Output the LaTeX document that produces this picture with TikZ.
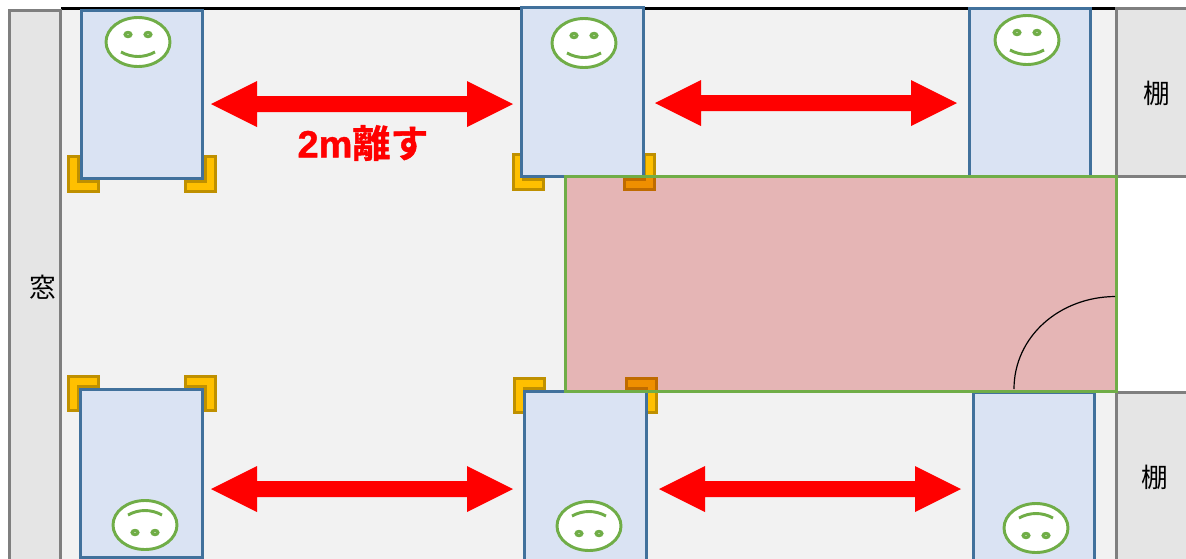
\documentclass[tikz,border=0pt]{standalone}
\usepackage{fontspec}
\setmainfont{Liberation Sans}
\newfontfamily\jpfont{Noto Sans CJK JP}
\newfontfamily\jpbold[FakeBold=1]{Noto Sans CJK JP Bold}
\newfontfamily\latinbold[FakeBold=1]{Liberation Sans Bold}

\definecolor{floorgray}{HTML}{F2F2F2}
\definecolor{shelfgray}{HTML}{E5E5E5}
\definecolor{wallgray}{HTML}{7F7F7F}
\definecolor{bedblue}{HTML}{DAE3F3}
\definecolor{bedline}{HTML}{41719C}
\definecolor{facegreen}{HTML}{70AD47}
\definecolor{legyellow}{HTML}{FFC000}
\definecolor{legline}{HTML}{BF9000}
\definecolor{roomred}{HTML}{C00000}

\tikzset{
  shelf/.style={draw=wallgray, line width=2.25pt, fill=shelfgray},
  bed/.style={draw=bedline, line width=2.25pt, fill=bedblue},
  leg/.style={draw=legline, line width=2.25pt, fill=legyellow},
  face/.style={draw=facegreen, line width=2.2pt, fill=white},
  eye/.style={draw=facegreen, line width=2.2pt, fill=facegreen!50!white},
  mouth/.style={draw=facegreen, line width=2.2pt},
  label/.style={font=\jpfont\fontsize{20}{24}\selectfont, text=black}
}

\begin{document}
\begin{tikzpicture}[x=0.75pt, y=-0.75pt]
\useasboundingbox (0,0) rectangle (1186,558);
\clip (0,0) rectangle (1186,558);

% floor
\fill [floorgray](61,9) rectangle (1116,570);
\fill [white](1116,176) rectangle (1190,392);
\draw [black, line width=2.25pt](61,8) -- (1116,8);

% window and shelves
\draw [shelf](9.5,10) rectangle (60.5,580);
\draw [shelf](1116,8.5) rectangle (1200,176);
\draw [shelf](1116,392) rectangle (1200,580);
\draw [black, line width=1.2pt](1117.5,176) -- (1117.5,392);

\node [label] (windowtext) at (43,287){窓};
\node [label] (shelftop) at (1156.5,93){棚};
\node [label] (shelfbottom) at (1154.5,477){棚};

% legs, top row
\foreach \x/\y in {68.5/156.5, 513.5/154.5}
  \draw [leg](\x,\y) -- ++(10,0) -- ++(0,24.5) -- ++(20,0) -- ++(0,10) -- ++(-30,0) -- cycle;
\foreach \x/\y in {215.5/156.5, 654/154.5}
  \draw [leg](\x,\y) -- ++(-10,0) -- ++(0,24.5) -- ++(-20,0) -- ++(0,10) -- ++(30,0) -- cycle;
% legs, bottom row
\foreach \x/\y in {68.5/410.5, 514.5/412.5}
  \draw [leg](\x,\y) -- ++(10,0) -- ++(0,-24.5) -- ++(20,0) -- ++(0,-10) -- ++(-30,0) -- cycle;
\foreach \x/\y in {215.5/410.5, 656.5/412.5}
  \draw [leg](\x,\y) -- ++(-10,0) -- ++(0,-24.5) -- ++(-20,0) -- ++(0,-10) -- ++(30,0) -- cycle;

% beds
\draw [bed](81,10) rectangle (202,178);
\draw [bed](521,7) rectangle (643,176);
\draw [bed](969,8) rectangle (1090,176);
\draw [bed](80,389) rectangle (202,557);
\draw [bed](524,391) rectangle (646,570);
\draw [bed](973,392) rectangle (1094,570);

% room
\fill [roomred, fill opacity=0.25](565,176) rectangle (1116,391);
\draw [facegreen, line width=2.25pt](565,176) rectangle (1116,391);
\draw [black, line width=0.9pt](1014,389) .. controls (1014,337) and (1059,297) .. (1115,296.5);

% faces, top row
\foreach \x/\y in {138/42, 584/43, 1027/40}{
  \draw [face](\x,\y) ellipse [x radius=32, y radius=24.5];
  \draw [eye](\x-10,\y-7.5) ellipse [x radius=3, y radius=2.2];
  \draw [eye](\x+10,\y-7.5) ellipse [x radius=3, y radius=2.2];
  \draw [mouth](\x-17,\y+10) .. controls (\x-6,\y+16) and (\x+6,\y+16) .. (\x+17,\y+10);
}
% faces, bottom row
\foreach \x/\y in {145/525, 589/526, 1036/528}{
  \draw [face](\x,\y) ellipse [x radius=32, y radius=24.5];
  \draw [eye](\x-10,\y+7.5) ellipse [x radius=3, y radius=2.2];
  \draw [eye](\x+10,\y+7.5) ellipse [x radius=3, y radius=2.2];
  \draw [mouth](\x-17,\y-10) .. controls (\x-6,\y-16) and (\x+6,\y-16) .. (\x+17,\y-10);
}

% red arrows
\foreach \x/\y in {211/104, 655/103, 211/489, 659/489}
  \fill [red](\x,\y) -- ++(46,-23) -- ++(0,15) -- ++(210,0) -- ++(0,-15) -- ++(46,23)
    -- ++(-46,23) -- ++(0,-15) -- ++(-210,0) -- ++(0,15) -- cycle;

\node [text=red, font=\fontsize{28.5}{34}\selectfont] (distance) at (363,143){{\latinbold 2m}{\jpbold 離す}};
\end{tikzpicture}
\end{document}
